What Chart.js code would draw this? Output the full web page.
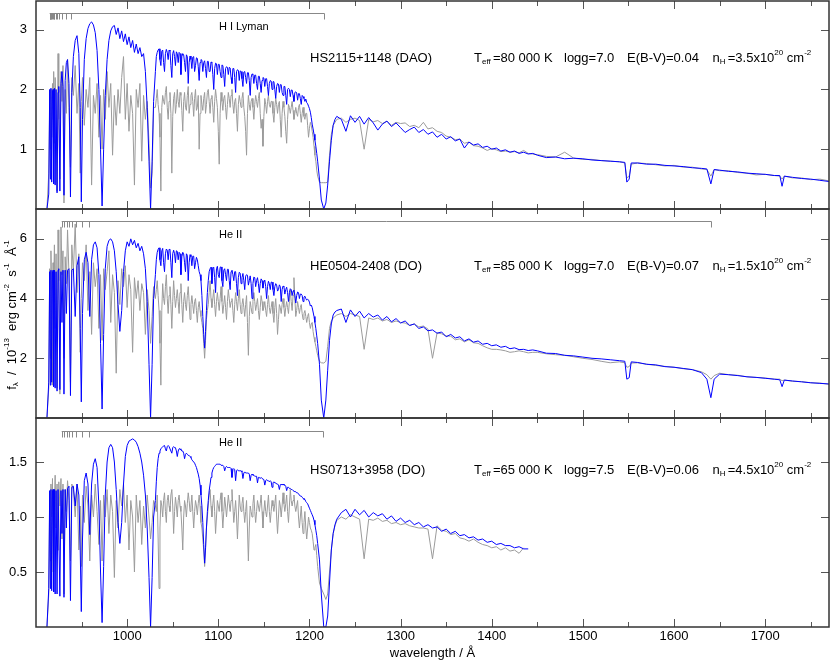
<!DOCTYPE html>
<html><head><meta charset="utf-8">
<script src="https://cdn.jsdelivr.net/npm/chart.js@4/dist/chart.umd.min.js"></script>
<style>
html,body{margin:0;padding:0;background:#fff;}
#wrap{position:relative;width:830px;height:661px;overflow:hidden;}
#wrap canvas{position:absolute;left:0;top:0;}
</style></head><body>
<div id="wrap">
<canvas id="c1" width="830" height="661"></canvas>
<canvas id="c2" width="830" height="661"></canvas>
<canvas id="c3" width="830" height="661"></canvas>
</div>
<script>
// ---- shared wavelength grid (Å) ----
const wavelength = [
912, 914, 915, 915.8, 916.4, 917.2, 918.1, 918.7, 919.4, 920.2,
921, 922, 923.1, 924.2, 925, 926.2, 927.4, 928.5, 929.6, 930.7,
932, 933.3, 934.6, 936.2, 937.8, 939.3,
941, 943, 945, 947, 948.5, 949.7, 951, 953, 955, 957,
959, 961, 963, 965, 967, 969, 970.8, 972.5, 974.2, 976,
978, 980, 982, 984, 986, 988, 990, 992, 994, 996,
998, 1000, 1002, 1004, 1006, 1008, 1010, 1012, 1014, 1016,
1018, 1020, 1022, 1024, 1025.7, 1027.4, 1029,
1031, 1032, 1033, 1034, 1035, 1036, 1037, 1038, 1039, 1040,
1041, 1042, 1043, 1044, 1045, 1046, 1047, 1048, 1049, 1050,
1051, 1052, 1053, 1054, 1055, 1056, 1057, 1058, 1059, 1060,
1061, 1062, 1063, 1064, 1065, 1066, 1067, 1068, 1069, 1070,
1071, 1072, 1073, 1074, 1075, 1076, 1077, 1078, 1079, 1080,
1081, 1082, 1083, 1084, 1085, 1086, 1087, 1088, 1089, 1090,
1091, 1092, 1093, 1094, 1095, 1096, 1097, 1098, 1099, 1100,
1101, 1102, 1103, 1104, 1105, 1106, 1107, 1108, 1109, 1110,
1111, 1112, 1113, 1114, 1115, 1116, 1117, 1118, 1119, 1120,
1121, 1122, 1123, 1124, 1125, 1126, 1127, 1128, 1129, 1130,
1131, 1132, 1133, 1134, 1135, 1136, 1137, 1138, 1139, 1140,
1141, 1142, 1143, 1144, 1145, 1146, 1147, 1148, 1149, 1150,
1151, 1152, 1153, 1154, 1155, 1156, 1157, 1158, 1159, 1160,
1161, 1162, 1163, 1164, 1165, 1166, 1167, 1168, 1169, 1170,
1171, 1172, 1173, 1174, 1175, 1176, 1177, 1178, 1179, 1180,
1181, 1182, 1183, 1184, 1185, 1186, 1187, 1188, 1189, 1190,
1191, 1192, 1193, 1194, 1195, 1196, 1197, 1198, 1199, 1200,
1201, 1202, 1203, 1204, 1205, 1206, 1207, 1208, 1209,
1211, 1213, 1215.7, 1218, 1220, 1222, 1224, 1226, 1228, 1230,
1235, 1240, 1245, 1250, 1255, 1260, 1265, 1270, 1275, 1280,
1285, 1290, 1295, 1300, 1305, 1310, 1315, 1320, 1325, 1330,
1335, 1340, 1345, 1350, 1355, 1360, 1365, 1370, 1375, 1380,
1385, 1390, 1395, 1400, 1405, 1410, 1415, 1420, 1425, 1430,
1435, 1440, 1445,
1450, 1460, 1470, 1480, 1490, 1500, 1510, 1520, 1530, 1540,
1546, 1548.2, 1550.8, 1553, 1560, 1570, 1580, 1590, 1600, 1610,
1620, 1630, 1636, 1640.4, 1644, 1650, 1660, 1670, 1680, 1690,
1700, 1710, 1716, 1718.5, 1721, 1730, 1740, 1750, 1760, 1770
];

// ---- HS2115+1148 (DAO), flux in 1e-13 ----
const modelHS2115 = [
0, 0.25, 2.0, 0.5, 2.02, 0.45, 1.98, 2.0, 0.42, 2.02,
0.4, 2.0, 0.27, 1.95, 2.05, 0.3, 2.1, 2.3, 2.05, 0.23,
2.15, 2.45, 2.5, 2.1, 0.2, 1.95,
2.55, 2.82, 2.9, 2.6, 1.7, 0.12, 1.5, 2.5, 2.85, 3.02,
3.1, 3.13, 3.08, 2.95, 2.65, 2.0, 1.0, 0.05, 1.0, 1.9,
2.5, 2.82, 2.98, 3.05, 3.07, 2.92, 3.03, 2.85, 2.98, 2.8,
2.93, 2.75, 2.88, 2.7, 2.82, 2.62, 2.76, 2.6, 2.7, 2.55,
2.6, 2.3, 1.7, 0.8, 0.0, 0.8, 1.8,
2.3, 2.55, 2.62, 2.66, 2.68, 2.5, 2.4, 2.64, 2.66, 2.45,
2.3, 2.6, 2.67, 2.62, 2.5, 2.66, 2.64, 2.4, 2.2, 2.6,
2.65, 2.55, 2.4, 2.63, 2.6, 2.45, 2.62, 2.6, 2.25, 2.55,
2.6, 2.58, 2.45, 2.3, 2.58, 2.55, 2.1, 2.45, 2.56, 2.5,
2.35, 2.54, 2.55, 2.3, 2.4, 2.53, 2.52, 2.38, 2.15, 2.45,
2.5, 2.49, 2.3, 2.45, 2.48, 2.35, 2.2, 2.47, 2.47, 2.3,
2.3, 2.46, 2.45, 2.25, 2.0, 2.35, 2.44, 2.43, 2.25, 2.42,
2.42, 2.3, 2.2, 2.41, 2.4, 2.25, 2.05, 2.35, 2.38, 2.37,
2.25, 2.37, 2.36, 2.2, 2.1, 2.35, 2.35, 2.2, 1.95, 2.3,
2.33, 2.32, 2.15, 2.31, 2.3, 2.18, 2.05, 2.29, 2.3, 2.2,
2.1, 2.28, 2.28, 2.15, 1.9, 2.2, 2.26, 2.25, 2.1, 2.24,
2.24, 2.1, 2.0, 2.22, 2.22, 2.1, 1.95, 2.15, 2.2, 2.19,
2.05, 2.18, 2.18, 2.05, 1.9, 2.1, 2.15, 2.14, 2.0, 2.13,
2.13, 2.0, 1.85, 2.05, 2.1, 2.09, 1.95, 2.08, 2.08, 1.95,
1.9, 2.05, 2.05, 1.9, 1.75, 2.0, 2.02, 2.0, 1.88, 1.99,
1.99, 1.9, 1.8, 1.95, 1.96, 1.94, 1.82, 1.93, 1.93, 1.85,
1.75, 1.9, 1.88, 1.85, 1.8, 1.84, 1.78, 1.76, 1.72, 1.68,
1.62, 1.53, 1.42, 1.34, 1.25, 1.15, 1.05, 0.93, 0.8,
0.5, 0.15, 0.0, 0.1, 0.4, 0.8, 1.15, 1.4, 1.5, 1.55,
1.5, 1.3, 1.56, 1.45, 1.55, 1.42, 1.53, 1.44, 1.32, 1.42,
1.47, 1.38, 1.44, 1.36, 1.28, 1.33, 1.37, 1.28, 1.33, 1.25,
1.29, 1.2, 1.25, 1.17, 1.21, 1.14, 1.17, 1.02, 1.12, 1.07,
1.09, 1.03, 1.05, 1.0, 1.02, 0.97, 0.99, 0.95, 0.97, 0.93,
0.95, 0.92, 0.93,
0.9, 0.86, 0.87, 0.84, 0.85, 0.84, 0.82, 0.81, 0.8, 0.79,
0.78, 0.45, 0.5, 0.77, 0.77, 0.75, 0.75, 0.73, 0.72, 0.71,
0.69, 0.68, 0.67, 0.42, 0.66, 0.65, 0.63, 0.62, 0.6, 0.59,
0.58, 0.56, 0.56, 0.38, 0.55, 0.53, 0.51, 0.5, 0.48, 0.46
];
const obsHS2115 = [
0, 0.6, 1.7, 1.0, 2.0, 1.2, 2.1, 1.5, 2.3, 1.1,
2.2, 1.6, 0.3, 2.6, 1.5, 0.5, 2.3, 1.8, 2.4, 0.1,
2.0, 1.6, 2.5, 1.7, 0.7, 2.2,
1.9, 2.4, 1.6, 2.1, 0.6, 1.8, 2.2, 1.4, 2.0, 1.7,
2.2, 0.4, 1.9, 1.6, 2.1, 1.2, 1.9, 1.0, 2.0, 1.5,
2.3, 1.7, 2.1, 0.9, 1.9, 1.4, 2.0, 1.6, 2.2, 2.55,
1.5, 2.1, 1.3, 1.9, 1.6, 0.4, 2.0, 1.7, 2.1, 0.8,
1.9, 1.5, 1.8, 1.1, 0.35, 0.6, 1.7,
1.7, 1.85, 2.0, 1.75, 1.6, 1.2, 0.3, 1.7, 1.9, 1.8,
1.75, 1.95, 2.05, 1.7, 1.5, 1.8, 1.95, 1.6, 0.6, 1.55,
1.85, 1.95, 1.6, 1.75, 2.0, 1.8, 1.7, 1.95, 1.9, 1.65,
1.3, 1.8, 1.95, 1.7, 1.65, 1.9, 2.05, 1.6, 1.75, 1.9,
1.95, 1.8, 1.55, 1.85, 2.0, 1.65, 1.7, 1.9, 1.0, 1.6,
1.9, 1.75, 1.65, 1.85, 1.95, 1.6, 1.75, 1.95, 2.0, 1.8,
1.6, 1.85, 1.9, 1.7, 1.45, 1.8, 2.0, 1.85, 1.7, 1.3,
0.75, 1.6, 1.95, 1.8, 1.65, 1.85, 1.9, 1.7, 1.5, 1.75,
1.95, 1.85, 1.7, 1.9, 2.0, 1.75, 1.6, 1.8, 1.85, 1.6,
1.3, 1.75, 1.9, 1.8, 1.7, 1.85, 1.95, 1.7, 1.55, 1.3,
0.9, 1.6, 1.9, 1.75, 1.65, 1.8, 1.85, 1.7, 1.5, 1.75,
1.9, 1.8, 1.7, 1.85, 1.95, 1.6, 1.35, 1.5, 1.05, 1.55,
1.85, 1.75, 1.6, 1.8, 1.9, 1.75, 1.7, 1.8, 1.8, 1.6,
1.45, 1.7, 1.85, 1.75, 1.6, 1.75, 1.8, 1.5, 1.2, 1.6,
1.8, 1.7, 1.55, 1.3, 1.1, 1.5, 1.75, 1.7, 1.6, 1.7,
1.8, 1.65, 1.5, 1.6, 1.7, 1.6, 1.55, 1.7, 1.75, 1.6,
1.45, 1.6, 1.7, 1.55, 1.5, 1.6, 1.6, 1.4, 1.2, 1.35,
1.45, 1.4, 1.3, 1.2, 1.05, 0.9, 0.8, 0.65, 0.55,
0.45, 0.44, 0.44, 0.44, 0.45, 0.9, 1.25, 1.4, 1.45, 1.5,
1.52, 1.45, 1.5, 1.52, 1.48, 1.0, 1.5, 1.46, 1.48, 1.43,
1.47, 1.4, 1.45, 1.43, 1.44, 1.38, 1.4, 1.36, 1.45, 1.34,
1.36, 1.3, 1.28, 1.22, 1.2, 1.16, 1.17, 1.1, 1.12, 1.06,
1.05, 1.02, 0.98, 1.01, 0.99, 0.96, 0.97, 0.95, 0.96, 0.94,
0.98, 0.93, 0.92,
0.91, 0.88, 0.87, 0.95, 0.85, 0.83, 0.83, 0.81, 0.8, 0.79,
0.77, 0.52, 0.55, 0.75, 0.77, 0.76, 0.74, 0.72, 0.73, 0.7,
0.7, 0.67, 0.66, 0.55, 0.66, 0.64, 0.64, 0.61, 0.6, 0.57,
0.58, 0.56, 0.55, 0.5, 0.55, 0.52, 0.52, 0.49, 0.5, 0.47
];

// ---- HE0504-2408 (DO) ----
const modelHE0504 = [
0, 1.2, 4.9, 1.1, 4.95, 1.2, 4.9, 4.95, 1.05, 4.95,
1.0, 4.9, 0.9, 4.95, 5.0, 0.95, 4.9, 3.2, 4.95, 0.8,
4.95, 3.5, 4.95, 5.0, 0.75, 4.95,
5.0, 3.4, 5.1, 5.4, 3.0, 0.54, 3.5, 5.3, 5.55, 5.2,
3.4, 5.3, 5.8, 5.9, 5.7, 4.8, 2.5, 0.3, 2.8, 5.0,
5.75, 5.95, 6.0, 5.9, 5.6, 4.9, 3.8, 2.9, 3.6, 4.9,
5.6, 5.9, 5.75, 6.0, 5.8, 5.95, 5.7, 5.85, 5.6, 5.75,
5.5, 5.0, 3.9, 1.8, 0.0, 1.8, 4.0,
4.8, 5.3, 5.55, 5.65, 5.7, 5.3, 5.1, 5.6, 5.68, 5.2,
4.9, 5.5, 5.66, 5.62, 5.3, 5.65, 5.64, 5.2, 4.7, 5.5,
5.62, 5.5, 5.2, 5.6, 5.58, 5.3, 5.55, 5.5, 4.8, 5.4,
5.55, 5.5, 5.2, 4.9, 5.5, 5.45, 4.6, 5.2, 5.47, 5.4,
5.1, 5.42, 5.42, 5.0, 5.2, 5.38, 5.3, 5.1, 4.9, 4.8,
4.6, 4.1, 3.4, 2.8, 2.34, 2.9, 3.6, 4.2, 4.6, 4.9,
5.0, 5.05, 4.5, 5.0, 5.05, 4.7, 4.2, 5.0, 5.08, 4.8,
4.7, 5.05, 5.06, 4.6, 4.4, 4.95, 5.0, 4.8, 4.6, 4.98,
4.98, 4.6, 4.3, 4.9, 4.95, 4.8, 4.6, 4.9, 4.9, 4.5,
4.1, 4.7, 4.88, 4.85, 4.5, 4.7, 4.84, 4.6, 4.3, 4.75,
4.8, 4.78, 4.45, 4.6, 4.76, 4.5, 4.0, 4.5, 4.72, 4.7,
4.4, 4.6, 4.7, 4.5, 4.2, 4.5, 4.66, 4.6, 4.35, 4.55,
4.62, 4.4, 4.0, 4.4, 4.58, 4.5, 4.3, 4.55, 4.55, 4.3,
4.1, 4.4, 4.5, 4.45, 4.25, 4.3, 4.46, 4.4, 3.9, 4.3,
4.42, 4.4, 4.15, 4.3, 4.38, 4.2, 3.9, 4.2, 4.33, 4.3,
4.1, 4.25, 4.28, 4.1, 3.85, 4.1, 4.22, 4.2, 4.0, 4.15,
4.15, 4.1, 3.9, 4.05, 4.08, 4.0, 3.95, 3.98, 3.95, 3.88,
3.75, 3.78, 3.7, 3.55, 3.4, 3.2, 3.0, 2.75, 2.5,
1.8, 0.6, 0.0, 0.6, 1.6, 2.6, 3.15, 3.45, 3.55, 3.6,
3.65, 3.2, 3.62, 3.4, 3.58, 3.35, 3.5, 3.38, 3.45, 3.28,
3.4, 3.22, 3.33, 3.18, 3.25, 3.1, 3.15, 3.0, 3.05, 2.92,
2.95, 2.84, 2.88, 2.72, 2.8, 2.68, 2.72, 2.58, 2.65, 2.54,
2.58, 2.47, 2.5, 2.42, 2.45, 2.37, 2.4, 2.32, 2.35, 2.29,
2.3, 2.26, 2.28,
2.25, 2.17, 2.16, 2.1, 2.08, 2.04, 2.0, 1.98, 1.95, 1.92,
1.9, 1.3, 1.35, 1.88, 1.86, 1.8, 1.78, 1.72, 1.7, 1.66,
1.62, 1.52, 1.3, 0.68, 1.3, 1.47, 1.45, 1.42, 1.38, 1.36,
1.33, 1.3, 1.28, 1.05, 1.27, 1.24, 1.21, 1.18, 1.16, 1.14
];
const obsHE0504 = [
0, 1.0, 5.0, 2.0, 5.6, 4.0, 1.1, 5.2, 4.4, 5.8,
3.0, 5.5, 1.0, 6.3, 4.6, 0.8, 6.4, 4.8, 5.6, 2.0,
5.4, 4.5, 6.3, 4.8, 1.2, 5.8,
4.9, 6.5, 4.2, 5.5, 2.2, 4.0, 5.2, 4.6, 5.8, 3.6,
4.9, 2.8, 5.2, 4.4, 5.0, 3.0, 4.8, 2.6, 5.0, 4.3,
4.9, 5.6, 3.2, 4.8, 4.2, 1.5, 4.6, 3.8, 5.0, 4.4,
5.1, 3.7, 4.8, 4.3, 2.2, 4.7, 4.0, 4.6, 3.6, 4.5,
4.2, 2.8, 4.3, 3.6, 2.5, 3.4, 4.4,
4.0, 4.3, 4.6, 4.1, 3.6, 2.5, 1.1, 3.6, 4.5, 4.0,
3.8, 4.4, 4.8, 4.0, 3.5, 4.1, 4.4, 3.8, 3.0, 3.9,
4.6, 4.1, 3.7, 4.0, 4.3, 3.9, 3.5, 4.2, 4.5, 3.8,
3.2, 3.9, 4.2, 3.8, 3.6, 4.1, 4.4, 3.9, 3.3, 3.8,
4.1, 3.8, 3.5, 3.9, 4.0, 3.6, 3.2, 3.7, 3.9, 3.6,
3.4, 3.2, 3.0, 2.5, 2.0, 2.6, 3.3, 3.6, 3.8, 4.2,
4.6, 4.0, 3.7, 4.0, 4.3, 3.8, 3.4, 3.9, 4.2, 3.9,
3.6, 4.0, 4.4, 3.9, 3.5, 3.8, 4.1, 3.7, 3.3, 3.9,
4.3, 4.0, 3.7, 3.9, 4.0, 3.6, 3.2, 3.8, 4.2, 3.9,
3.6, 4.0, 4.3, 3.8, 3.5, 3.8, 4.0, 3.7, 3.4, 3.8,
4.1, 3.2, 2.1, 3.4, 3.9, 3.7, 3.5, 3.9, 4.2, 3.9,
3.6, 3.8, 4.0, 3.6, 3.3, 3.7, 4.1, 3.9, 3.6, 3.7,
3.9, 3.6, 3.4, 3.8, 4.1, 3.7, 3.5, 3.7, 3.9, 3.5,
3.2, 3.7, 4.0, 3.5, 2.8, 3.3, 3.8, 3.7, 3.5, 3.8,
4.0, 3.7, 3.4, 3.7, 3.9, 3.7, 3.5, 3.9, 4.3, 3.9,
3.6, 4.1, 4.7, 4.0, 3.4, 3.6, 3.9, 3.7, 3.5, 3.7,
3.8, 3.5, 3.3, 3.5, 3.6, 3.4, 3.2, 3.4, 3.5, 3.2,
3.0, 3.15, 3.2, 2.9, 2.7, 2.55, 2.4, 2.25, 2.1,
1.9, 1.85, 1.84, 1.9, 2.4, 3.0, 3.25, 3.35, 3.4, 3.45,
3.5, 3.4, 3.5, 3.45, 3.4, 2.3, 3.35, 3.3, 3.35, 3.25,
3.3, 3.2, 3.25, 3.2, 3.18, 3.1, 3.15, 3.05, 3.08, 2.98,
2.0, 2.85, 2.82, 2.75, 2.74, 2.62, 2.65, 2.55, 2.62, 2.52,
2.5, 2.42, 2.35, 2.3, 2.3, 2.28, 2.25, 2.2, 2.22, 2.25,
2.22, 2.18, 2.2,
2.2, 2.15, 2.12, 2.1, 2.05, 2.0, 1.96, 1.9, 1.85, 1.88,
1.85, 1.7, 1.72, 1.84, 1.85, 1.8, 1.76, 1.73, 1.7, 1.65,
1.62, 1.55, 1.45, 1.3, 1.42, 1.5, 1.45, 1.43, 1.38, 1.36,
1.34, 1.3, 1.3, 1.25, 1.27, 1.23, 1.22, 1.18, 1.17, 1.13
];

// ---- HS0713+3958 (DO), ends at 1440 Å ----
const modelHS0713 = [
0, 0.35, 1.24, 0.35, 1.25, 0.33, 1.24, 1.25, 0.32, 1.25,
0.3, 1.24, 0.3, 1.25, 1.25, 0.28, 1.24, 0.85, 1.25, 0.27,
1.25, 0.9, 1.26, 1.28, 0.24, 1.27,
1.28, 1.1, 1.3, 1.2, 0.7, 0.14, 0.8, 1.33, 1.4, 1.3,
0.84, 1.3, 1.48, 1.53, 1.45, 1.1, 0.5, 0.04, 0.55, 1.2,
1.5, 1.63, 1.66, 1.63, 1.5, 1.25, 0.95, 0.76, 0.95, 1.3,
1.55, 1.65, 1.69, 1.7, 1.71, 1.7, 1.68, 1.64, 1.58, 1.5,
1.38, 1.2, 0.9, 0.45, 0.0, 0.45, 1.0,
1.15, 1.32, 1.45, 1.53, 1.58, 1.6, 1.62, 1.63, 1.64, 1.645,
1.65, 1.62, 1.6, 1.64, 1.65, 1.64, 1.64, 1.6, 1.58, 1.63,
1.64, 1.63, 1.63, 1.6, 1.55, 1.6, 1.62, 1.62, 1.61, 1.6,
1.6, 1.58, 1.53, 1.57, 1.58, 1.57, 1.56, 1.56, 1.55, 1.54,
1.52, 1.51, 1.5, 1.49, 1.47, 1.45, 1.42, 1.39, 1.35, 1.29,
1.2, 1.1, 0.95, 0.75, 0.58, 0.72, 0.9, 1.05, 1.15, 1.24,
1.3, 1.36, 1.4, 1.43, 1.45, 1.46, 1.47, 1.48, 1.48, 1.48,
1.48, 1.48, 1.47, 1.47, 1.47, 1.46, 1.42, 1.45, 1.46, 1.45,
1.45, 1.45, 1.45, 1.44, 1.36, 1.43, 1.44, 1.43, 1.33, 1.42,
1.43, 1.42, 1.42, 1.42, 1.42, 1.41, 1.35, 1.4, 1.41, 1.4,
1.4, 1.4, 1.4, 1.39, 1.33, 1.38, 1.39, 1.38, 1.38, 1.37,
1.37, 1.37, 1.31, 1.36, 1.36, 1.35, 1.36, 1.35, 1.35, 1.34,
1.29, 1.33, 1.34, 1.33, 1.33, 1.32, 1.33, 1.32, 1.27, 1.31,
1.32, 1.31, 1.31, 1.3, 1.3, 1.29, 1.25, 1.29, 1.3, 1.29,
1.3, 1.29, 1.29, 1.28, 1.24, 1.27, 1.27, 1.26, 1.26, 1.25,
1.25, 1.24, 1.24, 1.23, 1.23, 1.22, 1.22, 1.21, 1.2, 1.19,
1.19, 1.18, 1.17, 1.16, 1.16, 1.14, 1.13, 1.12, 1.1, 1.08,
1.06, 1.04, 1.02, 1.0, 0.97, 0.93, 0.88, 0.83, 0.76,
0.61, 0.3, 0.0, 0.0, 0.1, 0.4, 0.7, 0.85, 0.93, 0.98,
1.04, 1.07, 1.0, 1.07, 1.02, 1.06, 1.0, 1.04, 1.01, 1.03,
0.98, 1.01, 0.96, 0.99, 0.95, 0.97, 0.93, 0.95, 0.91, 0.93,
0.9, 0.91, 0.87, 0.89, 0.85, 0.87, 0.83, 0.84, 0.81, 0.82,
0.79, 0.8, 0.77, 0.78, 0.75, 0.76, 0.74, 0.74, 0.72, 0.73,
0.71, 0.71
];
const obsHS0713 = [
0, 0.3, 1.15, 0.6, 1.3, 1.0, 1.35, 0.5, 1.25, 1.1,
1.38, 0.9, 1.3, 0.7, 1.32, 1.1, 1.35, 0.8, 1.3, 0.3,
1.25, 1.05, 1.33, 1.15, 0.6, 1.3,
1.25, 1.0, 1.3, 0.7, 1.1, 0.55, 1.2, 0.95, 1.28, 1.1,
0.6, 1.2, 1.0, 1.3, 1.05, 0.75, 1.15, 0.6, 1.2, 1.0,
1.25, 0.85, 1.2, 1.05, 0.45, 1.15, 0.9, 1.25, 1.1, 1.3,
0.95, 1.2, 0.7, 1.15, 1.0, 0.5, 1.2, 0.95, 1.15, 0.75,
1.1, 0.9, 1.2, 1.0, 0.8, 0.95, 1.15,
1.1, 1.05, 1.2, 0.8, 0.35, 0.9, 1.15, 1.1, 1.0, 1.15,
1.22, 1.05, 0.95, 1.15, 1.2, 1.1, 1.05, 1.2, 1.25, 1.1,
0.85, 1.05, 1.18, 1.1, 1.0, 1.15, 1.2, 1.1, 1.05, 0.9,
0.7, 1.0, 1.15, 1.1, 1.0, 1.12, 1.22, 1.15, 1.05, 1.1,
1.2, 1.05, 0.9, 1.05, 1.15, 1.1, 1.02, 1.12, 1.2, 1.1,
0.95, 0.9, 0.8, 0.7, 0.55, 0.7, 0.9, 1.0, 1.1, 1.2,
1.25, 1.1, 1.0, 1.12, 1.2, 1.05, 0.85, 1.0, 1.15, 1.1,
1.05, 1.15, 1.22, 1.05, 0.9, 1.05, 1.18, 1.1, 1.0, 1.1,
1.2, 1.12, 1.05, 1.15, 1.25, 1.1, 0.95, 1.05, 1.15, 1.0,
0.8, 1.0, 1.2, 1.1, 1.05, 1.12, 1.18, 1.05, 0.95, 1.05,
1.15, 0.9, 0.6, 0.9, 1.1, 1.05, 1.0, 1.12, 1.2, 1.05,
0.95, 1.05, 1.15, 1.1, 1.05, 1.12, 1.2, 1.05, 0.9, 1.05,
1.15, 1.05, 1.0, 1.1, 1.2, 1.05, 0.95, 1.05, 1.15, 1.1,
1.05, 1.12, 1.2, 1.0, 0.85, 1.0, 1.15, 1.1, 1.0, 1.1,
1.22, 1.12, 1.05, 1.12, 1.2, 1.05, 0.95, 1.1, 1.25, 1.15,
1.1, 1.15, 1.2, 1.1, 1.05, 1.1, 1.15, 1.0, 0.9, 1.0,
1.1, 0.95, 0.85, 0.95, 1.05, 0.9, 0.8, 0.9, 1.0, 0.95,
0.9, 0.88, 0.85, 0.78, 0.7, 0.72, 0.75, 0.65, 0.55,
0.4, 0.35, 0.3, 0.25, 0.3, 0.5, 0.7, 0.85, 0.92, 0.97,
1.0, 0.98, 1.02, 1.0, 0.98, 0.62, 0.98, 0.97, 0.99, 0.96,
0.97, 0.94, 0.95, 0.93, 0.94, 0.92, 0.91, 0.9, 0.9, 0.89,
0.62, 0.92, 0.88, 0.87, 0.84, 0.85, 0.81, 0.8, 0.78, 0.8,
0.77, 0.75, 0.74, 0.72, 0.73, 0.7, 0.72, 0.69, 0.7, 0.67,
0.72
];

// ---- line identification marks (Å) ----
const lymanTicks = [915.0, 915.4, 915.9, 916.4, 917.0, 917.6, 918.3, 919.2, 920.2, 921.4, 923.0, 925.3, 929.0, 932.5, 938.0];
const lymanEnd = 1215.67;
const heIITicks = [928.2, 931.0, 933.8, 936.5, 939.5, 943.9, 950.1, 958.4];
const heIIEnd2 = 1640.4;
const heIIEnd3 = 1215.2;

const FONT = '"Liberation Sans", Arial, Helvetica, sans-serif';
Chart.defaults.font.family = FONT;
Chart.defaults.font.size = 13;
Chart.defaults.color = '#000';

function checkLen(name, arr, n) {
  if (arr.length !== n) throw new Error(name + ' has ' + arr.length + ' values, expected ' + n);
}
checkLen('wavelength', wavelength, 345);
checkLen('modelHS2115', modelHS2115, wavelength.length);
checkLen('obsHS2115', obsHS2115, wavelength.length);
checkLen('modelHE0504', modelHE0504, wavelength.length);
checkLen('obsHE0504', obsHE0504, wavelength.length);
checkLen('modelHS0713', modelHS0713, 304);
checkLen('obsHS0713', obsHS0713, 303);

function toPoints(arr) { return arr.map((v, i) => ({x: wavelength[i], y: v})); }

function drawRich(ctx, x, y, parts, size, align) {
  const small = Math.round(size * 0.62);
  let w = 0;
  parts.forEach(([t, m]) => { ctx.font = (m ? small : size) + 'px ' + FONT; w += ctx.measureText(t).width; });
  let cx = align === 'center' ? x - w / 2 : x;
  parts.forEach(([t, m]) => {
    ctx.font = (m ? small : size) + 'px ' + FONT;
    const dy = m === 1 ? size * 0.32 : (m === 2 ? -size * 0.38 : 0);
    ctx.fillText(t, cx, y + dy);
    cx += ctx.measureText(t).width;
  });
}

const panels = [
  {id: 'c1', model: modelHS2115, obs: obsHS2115, yMax: 3.48, yStep: 1, dec: 0, top: 1, bottom: 209,
   star: 'HS2115+1148 (DAO)', teff: '80 000', logg: '7.0', ebv: '0.04', nh: '3.5', textY: 58,
   ion: 'H I Lyman', ionY: 26.7, barY: 13, barTicks: lymanTicks, barEnd: lymanEnd},
  {id: 'c2', model: modelHE0504, obs: obsHE0504, yMax: 7.0, yStep: 2, dec: 0, top: 209, bottom: 418,
   star: 'HE0504-2408 (DO)', teff: '85 000', logg: '7.0', ebv: '0.07', nh: '1.5', textY: 266,
   ion: 'He II', ionY: 235, barY: 221, barTicks: heIITicks, barEnd: heIIEnd2, yTitle: true},
  {id: 'c3', model: modelHS0713, obs: obsHS0713, yMax: 1.9, yStep: 0.5, dec: 1, top: 418, bottom: 627,
   star: 'HS0713+3958 (DO)', teff: '65 000', logg: '7.5', ebv: '0.06', nh: '4.5', textY: 470,
   ion: 'He II', ionY: 443, barY: 431, barTicks: heIITicks, barEnd: heIIEnd3, xAxis: true}
];

function makeDecor(p) {
  return {
    id: 'decor_' + p.id,
    afterDatasetsDraw(chart) {
      const {ctx, chartArea: a} = chart;
      const xs = chart.scales.x, ys = chart.scales.y;
      ctx.save();
      // inward tick marks
      ctx.strokeStyle = '#555'; ctx.lineWidth = 1;
      ctx.beginPath();
      xs.ticks.forEach(t => {
        const v = t.value;
        if (v <= xs.min || v >= xs.max) return;
        const px = Math.round(xs.getPixelForValue(v)) + 0.5;
        const len = (Math.round(v) % 100 === 0) ? 8 : 5;
        ctx.moveTo(px, a.top); ctx.lineTo(px, a.top + len);
        ctx.moveTo(px, a.bottom); ctx.lineTo(px, a.bottom - len);
      });
      ys.ticks.forEach(t => {
        const v = t.value;
        if (v <= ys.min || v >= ys.max) return;
        const py = Math.round(ys.getPixelForValue(v)) + 0.5;
        ctx.moveTo(a.left, py); ctx.lineTo(a.left + 8, py);
        ctx.moveTo(a.right, py); ctx.lineTo(a.right - 8, py);
      });
      ctx.stroke();
      // frame
      ctx.strokeStyle = '#333'; ctx.lineWidth = 1.5;
      ctx.strokeRect(a.left, a.top, a.right - a.left, a.bottom - a.top);
      // line identification bar
      ctx.strokeStyle = '#888'; ctx.lineWidth = 1;
      const by = p.barY + 0.5;
      const x0 = xs.getPixelForValue(p.barTicks[0]);
      const x1 = Math.round(xs.getPixelForValue(p.barEnd)) + 0.5;
      ctx.beginPath();
      ctx.moveTo(x0, by); ctx.lineTo(x1, by); ctx.lineTo(x1, by + 6);
      p.barTicks.forEach(w => {
        const px = Math.round(xs.getPixelForValue(w)) + 0.5;
        ctx.moveTo(px, by); ctx.lineTo(px, by + 6);
      });
      ctx.stroke();
      // texts
      ctx.fillStyle = '#000'; ctx.textAlign = 'left'; ctx.textBaseline = 'middle';
      drawRich(ctx, 219, p.ionY, [[p.ion, 0]], 11);
      const ty = p.textY;
      drawRich(ctx, 310, ty, [[p.star, 0]], 13);
      drawRich(ctx, 474, ty, [['T', 0], ['eff ', 1], ['=' + p.teff + ' K', 0]], 13);
      drawRich(ctx, 564, ty, [['logg=' + p.logg, 0]], 13);
      drawRich(ctx, 627, ty, [['E(B-V)=' + p.ebv, 0]], 13);
      drawRich(ctx, 712.5, ty, [['n', 0], ['H ', 1], ['=' + p.nh + 'x10', 0], ['20', 2], [' cm', 0], ['-2', 2]], 13);
      if (p.yTitle) {
        ctx.translate(12, 315);
        ctx.rotate(-Math.PI / 2);
        drawRich(ctx, 0, 0, [['f', 0], ['λ', 1], ['  /  10', 0], ['-13', 2], ['  erg cm', 0], ['-2', 2],
          ['  s', 0], ['-1', 2], ['  Å', 0], ['-1', 2]], 13, 'center');
      }
      ctx.restore();
    }
  };
}

panels.forEach(p => {
  const isBottom = !!p.xAxis;
  new Chart(document.getElementById(p.id), {
    type: 'line',
    data: {
      datasets: [
        {label: 'model', data: toPoints(p.model), borderColor: '#0000ff', borderWidth: 1,
         pointRadius: 0, tension: 0, fill: false, spanGaps: false},
        {label: 'observation', data: toPoints(p.obs), borderColor: 'rgb(155,155,155)', borderWidth: 1,
         pointRadius: 0, tension: 0, fill: false, spanGaps: false}
      ]
    },
    options: {
      responsive: false, animation: false, devicePixelRatio: 1,
      events: [],
      layout: {padding: {left: 0, right: 1, top: p.top, bottom: isBottom ? 0 : 661 - p.bottom}},
      plugins: {legend: {display: false}, tooltip: {enabled: false}},
      scales: {
        x: {
          type: 'linear', min: 900, max: 1770, display: isBottom,
          grid: {display: false, drawTicks: false}, border: {display: false},
          ticks: {stepSize: 50, autoSkip: false, maxRotation: 0, includeBounds: false, padding: 2,
            font: {size: 13},
            callback: v => (Math.round(v) % 100 === 0 && v >= 1000) ? String(v) : ''},
          title: {display: true, text: 'wavelength / Å', font: {size: 13}, padding: {top: 0, bottom: 0}},
          afterFit: s => {
            if (isBottom) s.height = 34;
            s.paddingLeft = 0; s.paddingRight = 0; s.paddingTop = 0; s.paddingBottom = 0;
          }
        },
        y: {
          type: 'linear', min: 0, max: p.yMax,
          grid: {display: false, drawTicks: false}, border: {display: false},
          ticks: {stepSize: p.yStep, includeBounds: false, padding: 9, font: {size: 13},
            callback: v => v === 0 ? '' : Number(v).toFixed(p.dec)},
          afterFit: s => {
            s.width = 36;
            s.paddingLeft = 0; s.paddingRight = 0; s.paddingTop = 0; s.paddingBottom = 0;
          }
        }
      }
    },
    plugins: [makeDecor(p)]
  });
});
</script>
</body></html>
